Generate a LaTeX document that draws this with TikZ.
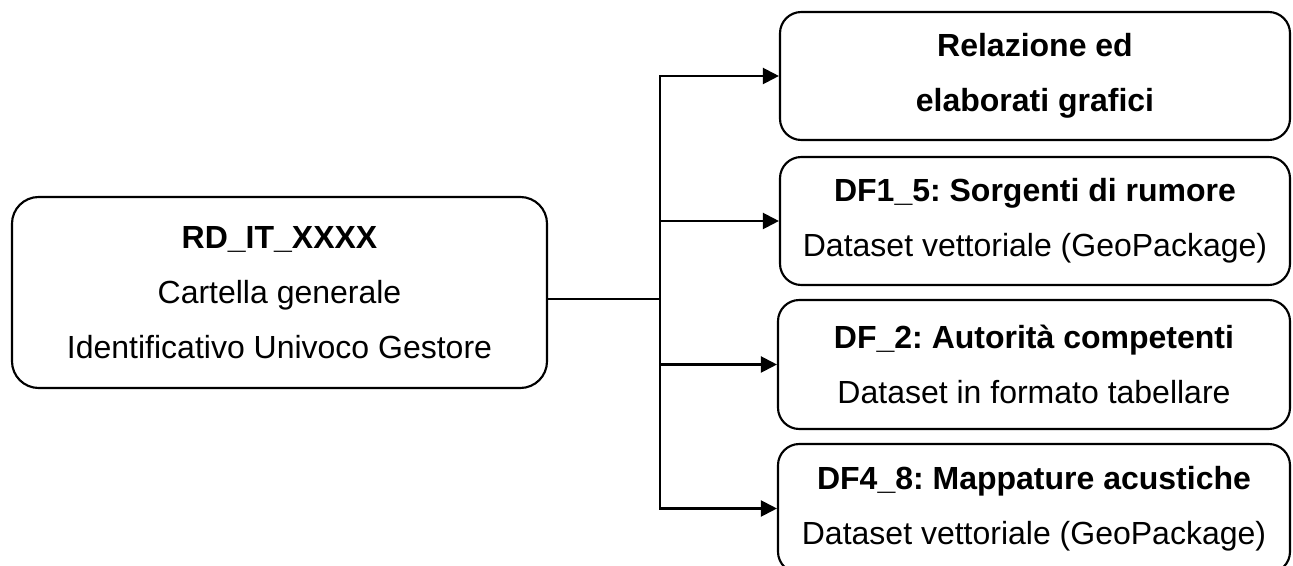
\documentclass[tikz,border=0pt]{standalone}
\usepackage{fontspec}
\setmainfont{Liberation Sans}
\usetikzlibrary{arrows.meta}
\frenchspacing
\begin{document}
\begin{tikzpicture}[x=0.75pt,y=-0.75pt,
  box/.style={draw=black, line width=1.6pt, rounded corners=16pt, inner sep=0pt,
    align=center, font={\fontsize{24}{41.5}\selectfont}},
  arr/.style={line width=1.6pt, -{Triangle[length=12pt,width=12pt]}}]
\useasboundingbox (0,0) rectangle (1293,566);
\node[box, rounded corners=20pt, minimum width=535*0.75pt, minimum height=191*0.75pt] (L) at (279.5,292.5)
  {{\bfseries RD\_IT\_XXXX}\\Cartella generale\\Identificativo Univoco Gestore};
\node[box, minimum width=510*0.75pt, minimum height=128*0.75pt] (R1) at (1035,76)
  {\bfseries Relazione ed\\\bfseries elaborati grafici};
\node[box, minimum width=510*0.75pt, minimum height=128*0.75pt] (R2) at (1035,221)
  {{\bfseries DF1\_5: Sorgenti di rumore}\\Dataset vettoriale (GeoPackage)};
\node[box, minimum width=512*0.75pt, minimum height=129*0.75pt] (R3) at (1034,364.5)
  {{\bfseries DF\_2: Autorità competenti}\\Dataset in formato tabellare};
\node[box, minimum width=512*0.75pt, minimum height=129*0.75pt] (R4) at (1034,508.5)
  {{\bfseries DF4\_8: Mappature acustiche}\\Dataset vettoriale (GeoPackage)};
\coordinate (J) at (660,299);
\draw[line width=2.2pt] (L.east |- J) -- (J);
\draw[arr] (J) |- (R1.west);
\draw[arr] (J) |- (R2.west);
\draw[arr] (J) |- (R3.west);
\draw[arr] (J) |- (R4.west);
\end{tikzpicture}
\end{document}
